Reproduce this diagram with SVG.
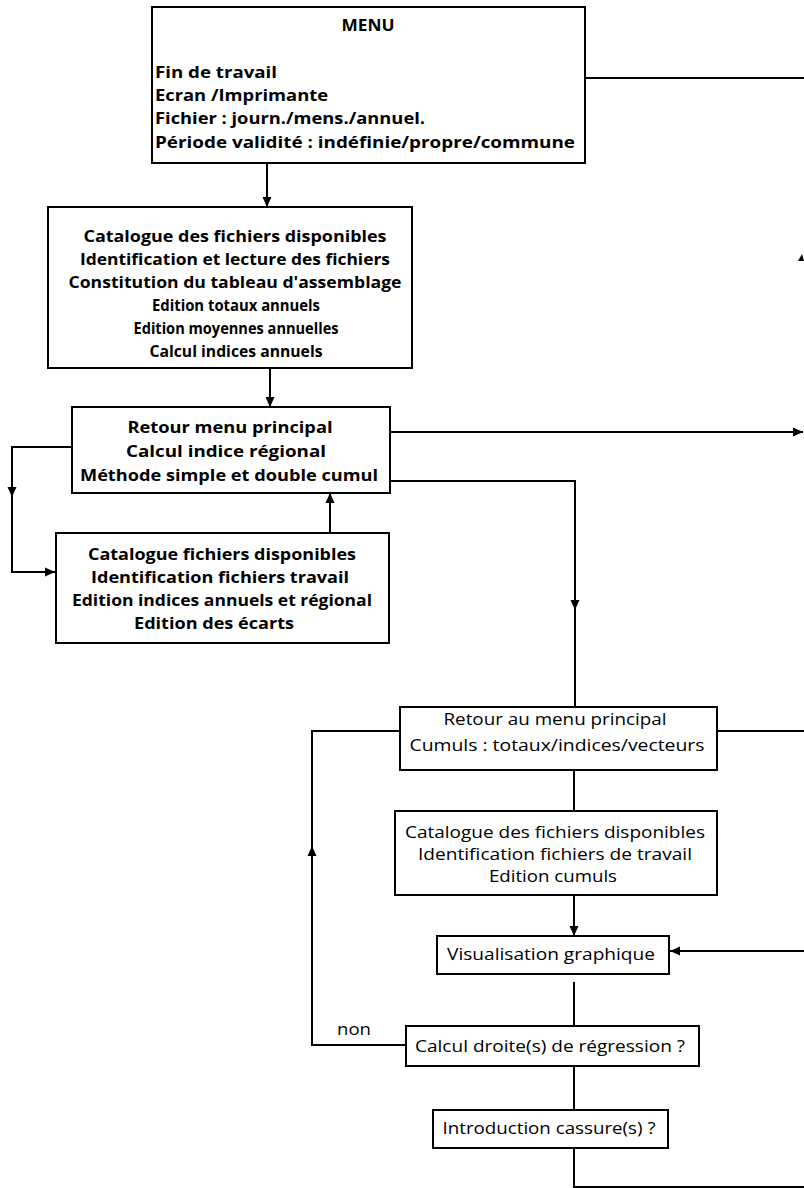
<svg xmlns="http://www.w3.org/2000/svg" width="804" height="1188" viewBox="0 0 804 1188">
<defs>
<marker id="arr" viewBox="0 0 10 10" refX="10" refY="5" markerWidth="10" markerHeight="10" markerUnits="userSpaceOnUse" orient="auto"><path d="M0,0.5 L10,5 L0,9.5 z" fill="#000"/></marker>
</defs>
<style>
.box{fill:#fff;stroke:#000;stroke-width:2}
.ln{fill:none;stroke:#000;stroke-width:2}
.tb{font-family:"Open Sans","Liberation Sans",sans-serif;font-size:16px;font-weight:700;fill:#000}
.tr{font-family:"Open Sans","Liberation Sans",sans-serif;font-size:16px;font-weight:500;fill:#000}
.c{text-anchor:middle}
</style>
<rect width="804" height="1188" fill="#fff"/>
<g id="connectors">
<path class="ln" d="M585,78 H804"/>
<path class="ln" d="M267,163 V207" marker-end="url(#arr)"/>
<path class="ln" d="M270,368 V407" marker-end="url(#arr)"/>
<path class="ln" d="M355,432 H803" marker-end="url(#arr)"/>
<path class="ln" d="M120,447 H12 V497" marker-end="url(#arr)"/>
<path class="ln" d="M12,495 V572 H55" marker-end="url(#arr)"/>
<path class="ln" d="M383,481 H575 V610" marker-end="url(#arr)"/>
<path class="ln" d="M575,608 V707"/>
<path class="ln" d="M330,533 V493" marker-end="url(#arr)"/>
<path class="ln" d="M687,731 H804"/>
<path class="ln" d="M406,1045 H312 V846" marker-end="url(#arr)"/>
<path class="ln" d="M312,848 V731 H400"/>
<path class="ln" d="M574,770 V811"/>
<path class="ln" d="M574,895 V936" marker-end="url(#arr)"/>
<path class="ln" d="M804,951 H670" marker-end="url(#arr)"/>
<path class="ln" d="M574,982 V1026"/>
<path class="ln" d="M574,1066 V1110"/>
<path class="ln" d="M574,1148 V1187 H804"/>
<path d="M798,261 L802,254 L804,261 z" fill="#000"/>
</g>
<g id="menu">
<rect class="box" x="152" y="7" width="433" height="156"/>
<text class="tb c" x="368" y="31" textLength="53" lengthAdjust="spacingAndGlyphs">MENU</text>
<text class="tb" x="155" y="78" textLength="122" lengthAdjust="spacingAndGlyphs">Fin de travail</text>
<text class="tb" x="155" y="101" textLength="173" lengthAdjust="spacingAndGlyphs">Ecran /Imprimante</text>
<text class="tb" x="155" y="124" textLength="270" lengthAdjust="spacingAndGlyphs">Fichier : journ./mens./annuel.</text>
<text class="tb" x="155" y="148" textLength="420" lengthAdjust="spacingAndGlyphs">Période  validité :  indéfinie/propre/commune</text>
</g>
<g id="catalogue">
<rect class="box" x="48" y="207" width="364" height="161"/>
<text class="tb c" x="235" y="242" textLength="303" lengthAdjust="spacingAndGlyphs">Catalogue des fichiers disponibles</text>
<text class="tb c" x="235" y="265" textLength="310" lengthAdjust="spacingAndGlyphs">Identification et lecture des fichiers</text>
<text class="tb c" x="235" y="288" textLength="333" lengthAdjust="spacingAndGlyphs">Constitution du tableau d'assemblage</text>
<text class="tb c" x="236" y="311" textLength="168" lengthAdjust="spacingAndGlyphs">Edition totaux annuels</text>
<text class="tb c" x="236" y="334" textLength="205" lengthAdjust="spacingAndGlyphs">Edition moyennes annuelles</text>
<text class="tb c" x="236" y="357" textLength="173" lengthAdjust="spacingAndGlyphs">Calcul indices annuels</text>
</g>
<g id="retour-menu">
<rect class="box" x="72" y="407" width="318" height="86"/>
<text class="tb c" x="230" y="433" textLength="205" lengthAdjust="spacingAndGlyphs">Retour menu principal</text>
<text class="tb c" x="226" y="457" textLength="200" lengthAdjust="spacingAndGlyphs">Calcul indice régional</text>
<text class="tb c" x="229" y="481" textLength="298" lengthAdjust="spacingAndGlyphs">Méthode simple et double cumul</text>
</g>
<g id="indice-regional">
<rect class="box" x="56" y="533" width="333" height="110"/>
<text class="tb c" x="222" y="560" textLength="268" lengthAdjust="spacingAndGlyphs">Catalogue fichiers disponibles</text>
<text class="tb c" x="220" y="583" textLength="258" lengthAdjust="spacingAndGlyphs">Identification fichiers travail</text>
<text class="tb c" x="222" y="606" textLength="300" lengthAdjust="spacingAndGlyphs">Edition indices annuels et régional</text>
<text class="tb c" x="214" y="629" textLength="160" lengthAdjust="spacingAndGlyphs">Edition des écarts</text>
</g>
<g id="cumuls">
<rect class="box" x="400" y="707" width="317" height="63"/>
<text class="tr c" x="555" y="725" textLength="223" lengthAdjust="spacingAndGlyphs">Retour au menu principal</text>
<text class="tr c" x="557" y="751" textLength="295" lengthAdjust="spacingAndGlyphs">Cumuls  :  totaux/indices/vecteurs</text>
</g>
<g id="catalogue-cumuls">
<rect class="box" x="395" y="811" width="322" height="84"/>
<text class="tr c" x="555" y="838" textLength="300" lengthAdjust="spacingAndGlyphs">Catalogue des fichiers disponibles</text>
<text class="tr c" x="555" y="860" textLength="274" lengthAdjust="spacingAndGlyphs">Identification fichiers de travail</text>
<text class="tr c" x="553" y="882" textLength="128" lengthAdjust="spacingAndGlyphs">Edition cumuls</text>
</g>
<g id="visualisation">
<rect class="box" x="437" y="936" width="232" height="38"/>
<text class="tr c" x="551" y="960" textLength="208" lengthAdjust="spacingAndGlyphs">Visualisation graphique</text>
</g>
<g id="regression">
<rect class="box" x="406" y="1026" width="293" height="40"/>
<text class="tr c" x="550" y="1052" textLength="270" lengthAdjust="spacingAndGlyphs">Calcul droite(s) de régression ?</text>
<text class="tr c" x="354" y="1035" textLength="34" lengthAdjust="spacingAndGlyphs">non</text>
</g>
<g id="cassure">
<rect class="box" x="433" y="1110" width="235" height="38"/>
<text class="tr c" x="549" y="1134" textLength="213" lengthAdjust="spacingAndGlyphs">Introduction cassure(s) ?</text>
</g>
</svg>
